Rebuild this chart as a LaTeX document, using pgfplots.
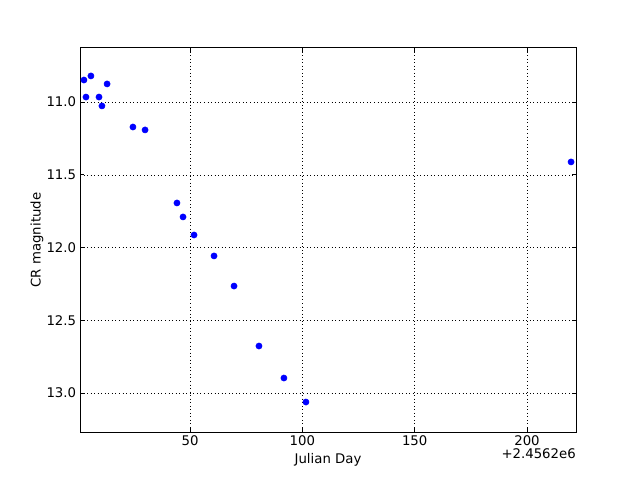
\documentclass[border=0pt]{standalone}
\usepackage{fontspec}
\setmainfont{DejaVu Sans}
\usepackage{pgfplots}
\pgfplotsset{compat=1.18}
\begin{document}
\begin{tikzpicture}
\path[use as bounding box] (0,0) rectangle (576bp,432bp);
\begin{axis}[
  at={(72bp,43.2bp)}, anchor=south west,
  scale only axis, width=446.4bp, height=345.6bp,
  xmin=1.04, xmax=221.8,
  ymin=10.629, ymax=13.268,
  y dir=reverse,
  xtick={50,100,150,200},
  ytick={11.0,11.5,12.0,12.5,13.0},
  yticklabel style={/pgf/number format/.cd,fixed,fixed zerofill,precision=1},
  /pgf/number format/assume math mode=true,
  tick align=inside,
  major tick length=4bp,
  tick style={black, line width=0.5pt},
  grid=major,
  major grid style={black, line width=0.4pt, dash pattern=on 0.8pt off 2.4pt},
  axis line style={black, line width=0.9pt},
  ticklabel style={font=\fontsize{12}{14}\selectfont},
  xlabel={Julian Day},
  ylabel={CR magnitude},
  label style={font=\fontsize{12}{14}\selectfont},
  xlabel style={yshift=0.5bp},
  ylabel style={yshift=-4bp},
  clip=false,
]
\addplot[only marks, mark=*, mark size=2.8bp, color=blue, mark options={fill=blue, draw=blue}] coordinates {
(2.8,10.849)
(3.7,10.966)
(5.9,10.821)
(9.5,10.966)
(10.8,11.027)
(13.1,10.876)
(24.6,11.172)
(30.0,11.192)
(44.2,11.694)
(46.9,11.790)
(51.8,11.914)
(60.7,12.058)
(69.6,12.265)
(80.7,12.677)
(91.8,12.897)
(101.6,13.062)
(219.6,11.412)
};
\node[anchor=north east, font=\fontsize{12}{14}\selectfont, inner sep=0pt, yshift=-15bp] at (rel axis cs:1,0) {+2.4562e6};
\end{axis}
\end{tikzpicture}
\end{document}
